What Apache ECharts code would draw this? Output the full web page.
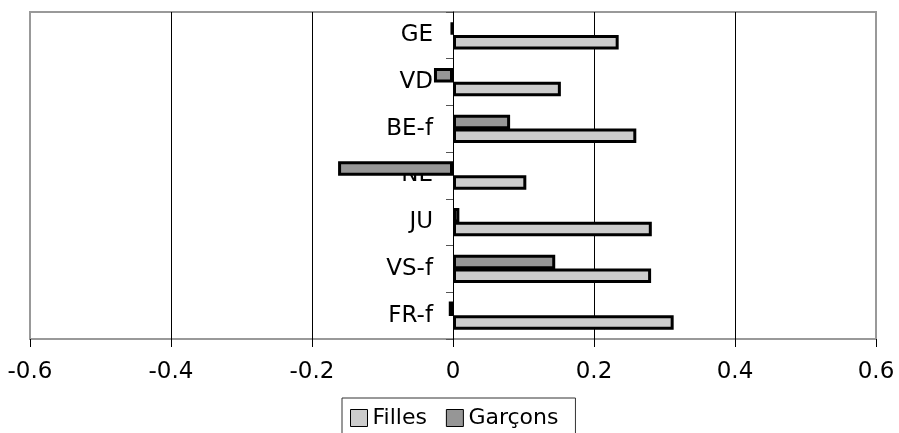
<!DOCTYPE html>
<html>
<head>
<meta charset="utf-8">
<script src="https://cdn.jsdelivr.net/npm/echarts@6/dist/echarts.min.js"></script>
<style>html,body{margin:0;padding:0;background:#fff;}#c{width:899px;height:433px;}</style>
</head>
<body>
<div id="c"></div>
<script>
// Categories bottom-to-top (GE appears at top)
var categories = ['FR-f', 'VS-f', 'JU', 'NE', 'BE-f', 'VD', 'GE'];
var filles   = [0.313, 0.281, 0.282, 0.104, 0.260, 0.153, 0.235];
var garcons  = [-0.006, 0.145, 0.009, -0.163, 0.081, -0.027, -0.003];
var seriesNames = ['Filles', 'Garçons'];
var xTicks = { min: -0.6, max: 0.6, interval: 0.2 };

var FONT = 'DejaVu Sans';
var chart = echarts.init(document.getElementById('c'), null, {renderer: 'canvas'});
chart.setOption({
  animation: false,
  textStyle: { fontFamily: FONT },
  grid: { left: 30, right: 23, top: 12, bottom: 94, show: true, borderColor: '#999', borderWidth: 2,
          containLabel: false, outerBoundsMode: 'none' },
  legend: {
    data: seriesNames,
    left: 342, top: 398,
    padding: [9, 17, 9, 8],
    itemWidth: 17, itemHeight: 17, itemGap: 19,
    borderColor: '#333', borderWidth: 1,
    textStyle: { fontFamily: FONT, fontSize: 22, color: '#000', padding: [0, 0, 0, 0] },
    icon: 'rect',
    itemStyle: { borderColor: '#000', borderWidth: 1 }
  },
  xAxis: {
    type: 'value', min: xTicks.min, max: xTicks.max, interval: xTicks.interval,
    axisLine: { show: false },
    axisTick: { show: true, length: 8, lineStyle: { color: '#000', width: 1 } },
    axisLabel: { fontFamily: FONT, fontSize: 23, color: '#000', margin: 22,
      formatter: function (v) { return String(Math.round(v * 10) / 10); } },
    splitLine: { show: true, showMinLine: false, showMaxLine: false, lineStyle: { color: '#000', width: 1 } }
  },
  yAxis: {
    type: 'category', data: categories,
    axisLine: { show: true, onZero: true, lineStyle: { color: '#000', width: 1 } },
    axisTick: { show: true, length: 7, lineStyle: { color: '#555' } },
    axisLabel: { fontFamily: FONT, fontSize: 23, color: '#000', margin: -403 }
  },
  series: [
    { name: 'Garçons', type: 'bar', data: garcons, barWidth: 14.5, barGap: '-5%',
      itemStyle: { color: '#969696', borderColor: '#000', borderWidth: 3 } },
    { name: 'Filles', type: 'bar', data: filles, barWidth: 14.5, barGap: '-5%',
      itemStyle: { color: '#cccccc', borderColor: '#000', borderWidth: 3 } }
  ]
});
</script>
</body>
</html>
